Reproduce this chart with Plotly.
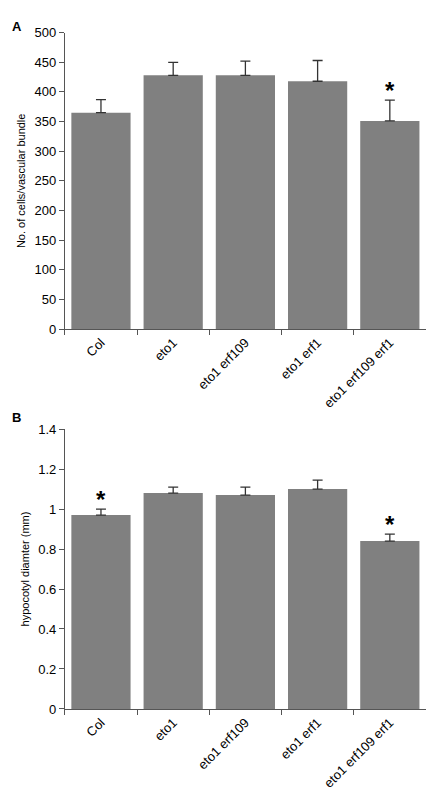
import plotly.graph_objects as go

genotypes = ["Col", "eto1", "eto1 erf109", "eto1 erf1", "eto1 erf109 erf1"]
cells = [365, 428, 428, 418, 351]
cells_err = [22, 22, 24, 35, 35]
diam = [0.97, 1.08, 1.07, 1.10, 0.84]
diam_err = [0.03, 0.03, 0.04, 0.045, 0.035]
cells_star = [False, False, False, False, True]
diam_star = [True, False, False, False, True]

BAR = "#808080"
fig = go.Figure()
for vals, errs, xa, ya in [(cells, cells_err, "x", "y"), (diam, diam_err, "x2", "y2")]:
    fig.add_trace(go.Bar(
        x=genotypes, y=vals, xaxis=xa, yaxis=ya, width=0.82,
        marker={"color": BAR, "line": {"width": 0}},
        error_y={"type": "data", "array": errs, "arrayminus": [0] * len(errs),
                 "symmetric": False, "color": "#333333", "thickness": 1.3, "width": 5},
        showlegend=False,
    ))

ann = []
for g, v, e, s in zip(genotypes, cells, cells_err, cells_star):
    if s:
        ann.append({"x": g, "y": v + e, "xref": "x", "yref": "y", "text": "<b>*</b>", "showarrow": False,
                    "yanchor": "bottom", "yshift": -6, "font": {"size": 24, "color": "#000"}})
for g, v, e, s in zip(genotypes, diam, diam_err, diam_star):
    if s:
        ann.append({"x": g, "y": v + e, "xref": "x2", "yref": "y2", "text": "<b>*</b>", "showarrow": False,
                    "yanchor": "bottom", "yshift": -6, "font": {"size": 24, "color": "#000"}})
ann.append({"x": 0.005, "y": 0.998, "xref": "paper", "yref": "paper", "text": "<b>A</b>",
            "showarrow": False, "xanchor": "left", "yanchor": "top", "font": {"size": 13}})
ann.append({"x": 0.005, "y": 0.5, "xref": "paper", "yref": "paper", "text": "<b>B</b>",
            "showarrow": False, "xanchor": "left", "yanchor": "top", "font": {"size": 13}})

xcommon = {"showline": True, "linecolor": "#555", "ticks": "outside", "tickson": "boundaries",
           "ticklen": 5, "tickcolor": "#555", "tickangle": -45, "tickfont": {"size": 13},
           "domain": [0.131, 0.963], "showgrid": False}
ycommon = {"showline": True, "linecolor": "#555", "ticks": "outside", "ticklen": 5,
           "tickcolor": "#555", "tickfont": {"size": 13}, "showgrid": False, "zeroline": False}

fig.update_layout(
    width=434, height=800, margin={"l": 0, "r": 0, "t": 0, "b": 0},
    paper_bgcolor="white", plot_bgcolor="white",
    font={"family": "Liberation Sans, Arial, sans-serif", "color": "#000"},
    xaxis={**xcommon, "anchor": "y"},
    yaxis={**ycommon, "domain": [0.6, 0.9775], "range": [0, 500], "dtick": 50,
           "title": {"text": "No. of cells/vascular bundle", "font": {"size": 11}, "standoff": 6}},
    xaxis2={**xcommon, "anchor": "y2"},
    yaxis2={**ycommon, "domain": [0.116, 0.4725], "range": [0, 1.4], "dtick": 0.2,
            "title": {"text": "hypocotyl diamter (mm)", "font": {"size": 11}, "standoff": 6}},
    annotations=ann,
)
fig.write_html("out.html")
